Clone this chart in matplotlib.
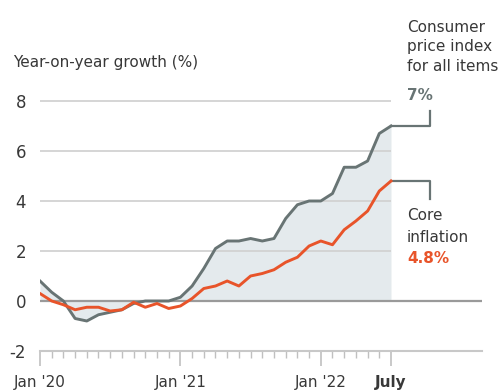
import matplotlib
matplotlib.use("Agg")
import matplotlib.pyplot as plt
import numpy as np

plt.rcParams['font.family'] = ['DejaVu Sans']

# ---- data (monthly, Jan 2020 .. July 2022) ----
months = list(range(31))
cpi = [0.8, 0.35, 0.0, -0.7, -0.8, -0.55, -0.45, -0.35, -0.1, 0.0, 0.0, 0.0,
       0.15, 0.6, 1.3, 2.1, 2.4, 2.4, 2.5, 2.4, 2.5, 3.3, 3.85, 4.0,
       4.0, 4.3, 5.35, 5.35, 5.6, 6.7, 7.0]
core = [0.3, 0.0, -0.15, -0.35, -0.25, -0.25, -0.4, -0.35, -0.05, -0.25, -0.1, -0.3,
        -0.2, 0.1, 0.5, 0.6, 0.8, 0.6, 1.0, 1.1, 1.25, 1.55, 1.75, 2.2,
        2.4, 2.25, 2.85, 3.2, 3.6, 4.4, 4.8]
x_major_pos = [0, 12, 24, 30]
x_major_labels = ["Jan '20", "Jan '21", "Jan '22", "July"]
y_ticks = [-2, 0, 2, 4, 6, 8]

W, H = 502, 392
CPI_C = '#687474'
CORE_C = '#e8542a'
FILL_C = '#e4eaed'
GRID_C = '#d2d2d2'
TXT_C = '#383838'

fig = plt.figure(figsize=(W / 100, H / 100), dpi=100)

def fx(px):
    return px / W

def fy(py):
    return 1 - py / H

# axes: x pixel 40 (n=0) .. 482 ; y pixel 351 (-2) .. 101 (8)
px_per_month = 11.7
xmax = (482 - 40) / px_per_month
ax = fig.add_axes([fx(40), fy(351), fx(482) - fx(40), fy(101) - fy(351)])
ax.set_xlim(0, xmax)
ax.set_ylim(-2, 8)

for s in ['top', 'right', 'left']:
    ax.spines[s].set_visible(False)
ax.spines['bottom'].set_color('#c8c8c8')
ax.spines['bottom'].set_linewidth(1.5)

# gridlines
for v in [2, 4, 6, 8]:
    ax.hlines(v, 0, 30, color=GRID_C, lw=1.3, zorder=1, clip_on=False)
ax.hlines(0, 0, xmax, color='#9a9a9a', lw=1.6, zorder=2)

# fill and lines
ax.fill_between(months, cpi, 0, color=FILL_C, lw=0, zorder=0)
ax.plot(months, cpi, color=CPI_C, lw=2.1, zorder=4, solid_joinstyle='round')
ax.plot(months, core, color=CORE_C, lw=2.1, zorder=5, solid_joinstyle='round')

# annotation brackets
bx = (430 - 40) / px_per_month
ax.plot([30, bx, bx], [cpi[-1], cpi[-1], (300 - 110) / 25], color=CPI_C, lw=1.6,
        clip_on=False, zorder=4)
ax.plot([30, bx, bx], [core[-1], core[-1], (300 - 198) / 25], color=CPI_C, lw=1.6,
        clip_on=False, zorder=4)

# ticks
ax.set_yticks(y_ticks)
ax.set_yticklabels([str(v) for v in y_ticks], fontsize=12, color=TXT_C)
ax.tick_params(axis='y', length=0, pad=10)
for lab in ax.get_yticklabels():
    lab.set_horizontalalignment('right')

ax.set_xticks(x_major_pos)
ax.set_xticklabels(x_major_labels, fontsize=11, color=TXT_C)
ax.get_xticklabels()[-1].set_fontweight('bold')
ax.set_xticks(months, minor=True)
ax.tick_params(axis='x', which='major', length=11, width=1.2, color='#c0c0c0',
               direction='out', pad=6)
ax.tick_params(axis='x', which='minor', length=5, width=1.0, color='#c0c0c0',
               direction='out')

# title
fig.text(fx(13), fy(67), "Year-on-year growth (%)", fontsize=11, color=TXT_C,
         ha='left', va='baseline')

# labels
tx = fx(407)
for py, s in [(32, "Consumer"), (51, "price index"), (71, "for all items")]:
    fig.text(tx, fy(py), s, fontsize=11, color=TXT_C, ha='left', va='baseline')
fig.text(tx, fy(100), "7%", fontsize=11, color=CPI_C, fontweight='bold',
         ha='left', va='baseline')
for py, s in [(220, "Core"), (242, "inflation")]:
    fig.text(tx, fy(py), s, fontsize=11, color=TXT_C, ha='left', va='baseline')
fig.text(tx, fy(263), "4.8%", fontsize=11, color=CORE_C, fontweight='bold',
         ha='left', va='baseline')

fig.savefig("out.png", dpi=100)
